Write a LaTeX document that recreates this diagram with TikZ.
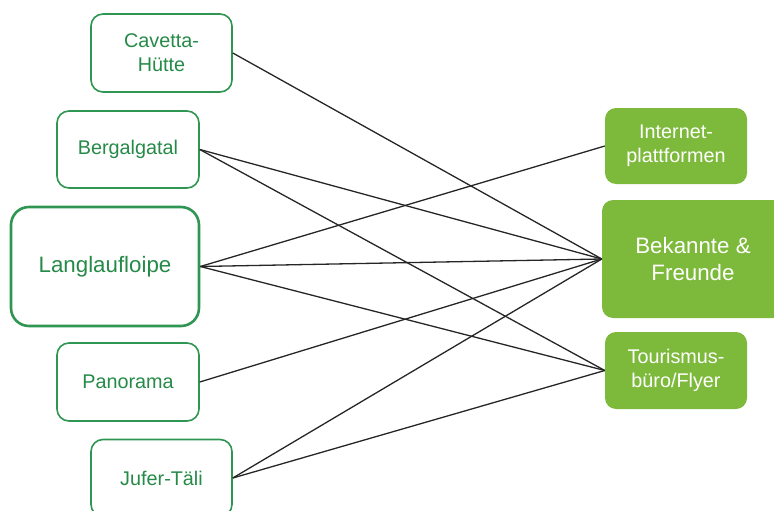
\documentclass[tikz,border=0pt]{standalone}
\usepackage{fontspec}
\setmainfont{Liberation Sans}
\definecolor{boxline}{RGB}{46,150,82}
\definecolor{boxtext}{RGB}{38,138,72}
\definecolor{boxfill}{RGB}{125,186,60}
\tikzset{
  src/.style={draw=boxline, line width=1.6pt, rounded corners=12pt, fill=white,
    text=boxtext, inner sep=0pt, align=center,
    font=\fontsize{19.8}{24}\selectfont},
  srcbig/.style={src, line width=2.6pt, rounded corners=18pt,
    font=\fontsize{22.3}{27}\selectfont},
  dst/.style={fill=boxfill, rounded corners=11pt, text=white, inner sep=0pt,
    align=center, font=\fontsize{19.8}{24}\selectfont},
  dstbig/.style={dst, font=\fontsize{22.3}{27}\selectfont},
  link/.style={draw=black!85, line width=1.3pt}
}
\begin{document}
\begin{tikzpicture}[x=1pt,y=-1pt]
  \useasboundingbox (0,0) rectangle (774,511);
  % sources on the left
  \node[src, minimum width=141pt, minimum height=78pt] (cav) at (161.5,53) {Cavetta-\\Hütte};
  \node[src, minimum width=142pt, minimum height=77pt] (berg) at (128,149.5) {Bergalgatal};
  \node[srcbig, minimum width=188pt, minimum height=119pt] (lang) at (105,266.5) {Langlaufloipe};
  \node[src, minimum width=142pt, minimum height=78pt] (pano) at (128,382) {Panorama};
  \node[src, minimum width=141pt, minimum height=77pt] (juf) at (161.5,478) {Jufer-Täli};
  % channels on the right
  \node[dst, minimum width=142pt, minimum height=76pt] (inet) at (676,146) {Internet-\\plattformen};
  \node[dstbig, minimum width=182pt, minimum height=118pt] (bek) at (693,259) {Bekannte \&\\Freunde};
  \node[dst, minimum width=142pt, minimum height=77pt] (tour) at (676,370.5) {Tourismus-\\büro/Flyer};
  % connections
  \draw[link] (cav.east) -- (bek.west);
  \draw[link] (berg.east) -- (bek.west);
  \draw[link] (berg.east) -- (tour.west);
  \draw[link] (lang.east) -- (inet.west);
  \draw[link] (lang.east) -- (bek.west);
  \draw[link] (lang.east) -- (tour.west);
  \draw[link] (pano.east) -- (bek.west);
  \draw[link] (juf.east) -- (bek.west);
  \draw[link] (juf.east) -- (tour.west);
\end{tikzpicture}
\end{document}
